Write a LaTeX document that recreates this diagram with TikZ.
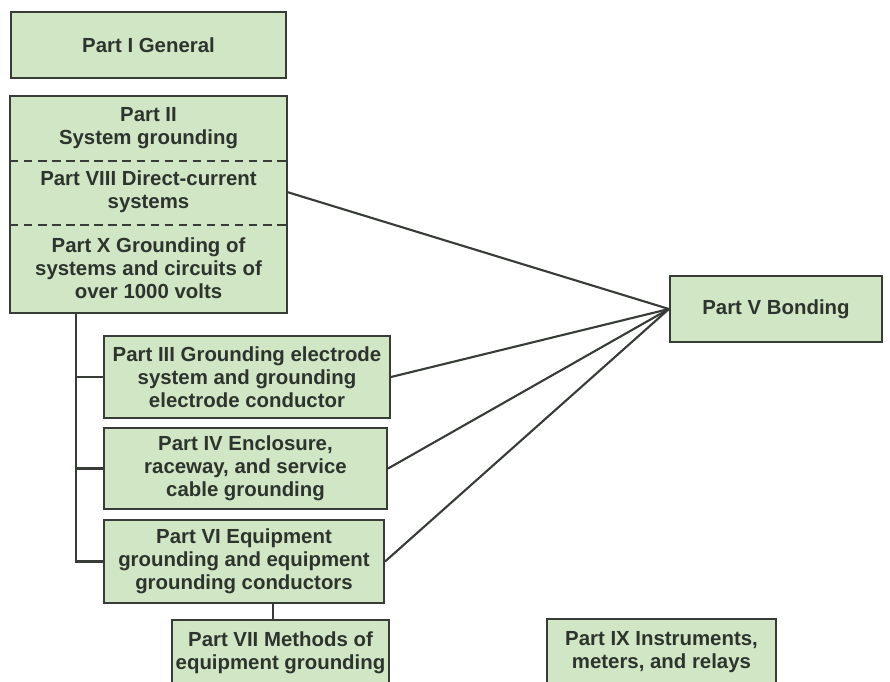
\documentclass[tikz,border=0pt]{standalone}
\usepackage{fontspec}
\setmainfont{Liberation Sans}
\usepackage{xcolor}
\definecolor{boxgreen}{RGB}{208,230,197}
\definecolor{boxline}{RGB}{55,60,55}
\definecolor{boxtext}{RGB}{45,52,45}

\begin{document}
\begin{tikzpicture}[x=0.025cm, y=-0.025cm, line width=1.5pt,
    boxsize/.style 2 args = {minimum width=#1*0.025cm, minimum height=#2*0.025cm},
    part/.style = {fill=boxgreen, draw=boxline, text=boxtext, align=center,
                   inner sep=0pt, font=\fontsize{14.5}{16.5}\selectfont\bfseries},
    inner/.style = {part, draw=none},
    wire/.style = {draw=boxline}]
                    \useasboundingbox (0,0) rectangle (890,682);
                    \clip (0,0) rectangle (890,682);

                    \node[part, boxsize={275}{66}] (part1) at (148.5,45) {Part I General};

                    % stacked box: II, VIII and X
                    \node[inner, boxsize={275}{63}] (part2) at (148.5,128.5) {Part II\\System grounding};
                    \node[inner, boxsize={275}{64}] (part8) at (148.5,192) {Part VIII Direct-current\\systems};
                    \node[inner, boxsize={275}{88}] (part10) at (148.5,268) {Part X Grounding of\\systems and circuits of\\over 1000 volts};
                    \draw[wire] (part2.north west) rectangle (part10.south east);
                    \draw[wire, dash pattern=on 6pt off 4pt] (part2.south west) -- (part2.south east);
                    \draw[wire, dash pattern=on 6pt off 4pt] (part8.south west) -- (part8.south east);

                    \node[part, boxsize={286}{82}] (part3) at (247,377) {Part III Grounding electrode\\system and grounding\\electrode conductor};
                    \node[part, boxsize={283}{81}] (part4) at (245.5,468.5) {Part IV Enclosure,\\raceway, and service\\cable grounding};
                    \node[part, boxsize={280}{83}] (part6) at (244,561.5) {Part VI Equipment\\grounding and equipment\\grounding conductors};
                    \node[part, boxsize={217}{66}] (part7) at (280.5,653) {Part VII Methods of\\equipment grounding};
                    \node[part, boxsize={212}{66}] (part5) at (776,309) {Part V Bonding};
                    \node[part, boxsize={229}{66}] (part9) at (661.5,652) {Part IX Instruments,\\meters, and relays};

                    % tree on the left
                    \coordinate (trunk) at (76,558);
                    \coordinate (stem) at (273,620);
                    \draw[wire] (part10.south -| trunk) |- (part6.west);
                    \draw[wire] (trunk |- part3.west) -- (part3.west);
                    \draw[wire] (trunk |- part4.west) -- (part4.west);
                    \draw[wire] (part6.south -| stem) -- (part7.north -| stem);

                    % fan into bonding
                    \draw[wire] (part8.east) -- (part5.west);
                    \draw[wire] (part3.east) -- (part5.west);
                    \draw[wire] (part4.east) -- (part5.west);
                    \draw[wire] (part6.east) -- (part5.west);

            \end{tikzpicture}
\end{document}
